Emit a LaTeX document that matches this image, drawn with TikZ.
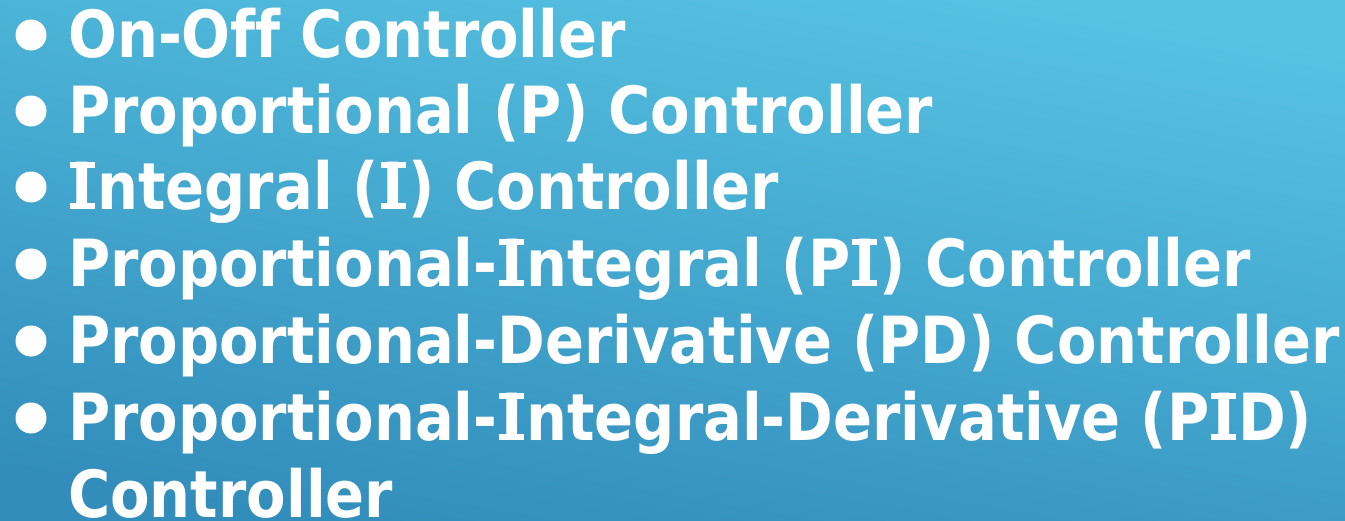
\documentclass[tikz,border=0pt]{standalone}
\usepackage{fontspec}
\setmainfont{DejaVu Sans}[Ligatures=NoCommon, FakeStretch=0.885]
\usetikzlibrary{positioning}

\definecolor{bgtop}{RGB}{86,195,227}
\definecolor{bgbottom}{RGB}{50,141,187}

% capital I with slab serifs, as in the heading typeface
\newcommand{\serifI}{\hbox to 29pt{%
  \rlap{\hskip2pt\rule{25pt}{6pt}}%
  \rlap{\hskip2pt\rule[\dimexpr\fontcharht\font`I-6pt\relax]{25pt}{6pt}}%
  \hss I\hss}}

\tikzset{
  itemtext/.style={anchor=base west, inner sep=0pt, text=white,
    font=\fontsize{65}{78}\selectfont\bfseries},
  bulletdot/.style={circle, fill=white, inner sep=0pt, minimum size=31pt}
}

\begin{document}
\begin{tikzpicture}[x=1pt, y=1pt]
  % background panel with a soft diagonal gradient
  \shade[top color=bgtop, bottom color=bgbottom, shading angle=-10]
    (0,0) rectangle (1345,-520);
  \useasboundingbox (0,0) rectangle (1345,-520);

  % list items (baselines every ~76.5 units)
  \node[itemtext] (t1) at (68,-57)  {On-Off Controller};
  \node[itemtext] (t2) at (68,-133) {Proportional (P) Controller};
  \node[itemtext] (t3) at (68,-209) {\serifI ntegral (\serifI) Controller};
  \node[itemtext] (t4) at (68,-286) {Proportional-\serifI ntegral (P\serifI) Controller};
  \node[itemtext] (t5) at (68,-363) {Proportional-Derivative (PD) Controller};
  \node[itemtext] (t6) at (68,-440) {Proportional-\serifI ntegral-Derivative (P\serifI D)};
  \node[itemtext] (t7) at (68,-517) {Controller};

  % bullets
  \node[bulletdot] (b1) at (31,-35)  {};
  \node[bulletdot] (b2) at (31,-111) {};
  \node[bulletdot] (b3) at (31,-187) {};
  \node[bulletdot] (b4) at (31,-264) {};
  \node[bulletdot] (b5) at (31,-341) {};
  \node[bulletdot] (b6) at (31,-418) {};
\end{tikzpicture}
\end{document}
